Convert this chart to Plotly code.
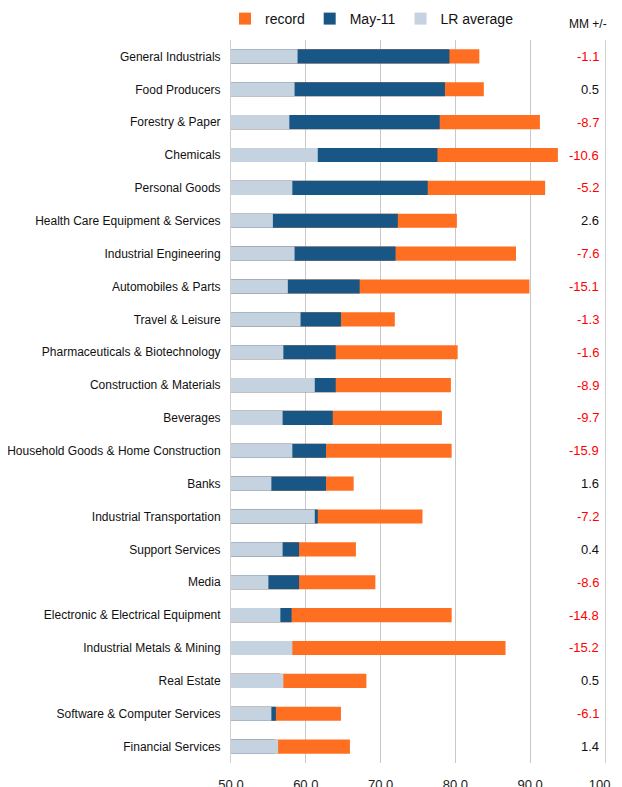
import plotly.graph_objects as go

categories = [
    "General Industrials", "Food Producers", "Forestry & Paper", "Chemicals",
    "Personal Goods", "Health Care Equipment & Services", "Industrial Engineering",
    "Automobiles & Parts", "Travel & Leisure", "Pharmaceuticals & Biotechnology",
    "Construction & Materials", "Beverages", "Household Goods & Home Construction",
    "Banks", "Industrial Transportation", "Support Services", "Media",
    "Electronic & Electrical Equipment", "Industrial Metals & Mining",
    "Real Estate", "Software & Computer Services", "Financial Services",
]
record = [83.2, 83.8, 91.3, 93.7, 92.0, 80.2, 88.1, 89.9, 71.9, 80.3, 79.4,
          78.2, 79.5, 66.4, 75.6, 66.7, 69.3, 79.5, 86.7, 68.1, 64.7, 65.9]
may11 = [79.2, 78.6, 77.9, 77.6, 76.3, 72.3, 72.0, 67.2, 64.7, 64.0, 64.0,
         63.6, 62.7, 62.7, 61.6, 59.1, 59.1, 58.1, 57.6, 56.5, 56.0, 55.8]
lr_average = [58.9, 58.5, 57.8, 61.6, 58.2, 55.6, 58.5, 57.6, 59.3, 57.0, 61.2,
              56.9, 58.2, 55.4, 61.2, 56.9, 55.0, 56.6, 58.2, 57.0, 55.4, 56.3]
mm_change = [-1.1, 0.5, -8.7, -10.6, -5.2, 2.6, -7.6, -15.1, -1.3, -1.6, -8.9,
             -9.7, -15.9, 1.6, -7.2, 0.4, -8.6, -14.8, -15.2, 0.5, -6.1, 1.4]
x_ticks = [50, 60, 70, 80, 90, 100]

C_REC = "#FF6F22"
C_MAY = "#185785"
C_LR = "#C4D3DF"

W, H = 622, 787

fig = go.Figure()
fig.add_trace(go.Bar(y=categories, x=record, orientation="h", name="record",
                     marker=dict(color=C_REC, line=dict(width=0))))
fig.add_trace(go.Bar(y=categories, x=may11, orientation="h", name="May-11",
                     marker=dict(color=C_MAY, line=dict(width=0))))
fig.add_trace(go.Bar(y=categories, x=lr_average, orientation="h", name="LR average",
                     marker=dict(color=C_LR, line=dict(width=0))))

for cat, v in zip(categories, mm_change):
    fig.add_annotation(x=0.989, xref="paper", y=cat, yref="y",
                       text=f"{v:.1f}", showarrow=False, xanchor="right",
                       font=dict(size=13, color="#FF0000" if v < 0 else "#111111"))

fig.add_annotation(x=1.0107, xref="paper", y=1.0221, yref="paper",
                   yanchor="middle", text="MM +/-", showarrow=False, xanchor="right",
                   font=dict(size=12, color="#111111"))

fig.update_layout(
    width=W, height=H,
    barmode="overlay", bargap=0.57,
    plot_bgcolor="white", paper_bgcolor="white",
    font=dict(family="Liberation Sans, Arial, sans-serif", size=12, color="#111111"),
    margin=dict(l=223, r=25, t=32, b=32, autoexpand=False),
    showlegend=True,
    legend=dict(orientation="h", xref="container", yref="container",
                x=217 / W, xanchor="left", y=1 - 11 / H, yanchor="middle",
                font=dict(size=14), itemwidth=30, traceorder="normal",
                bgcolor="rgba(0,0,0,0)"),
    xaxis=dict(range=[50, 100], tickvals=x_ticks, automargin=False,
               ticktext=[f"{t:.1f}" for t in x_ticks], showgrid=True,
               gridcolor="#C8C8C8", gridwidth=1, zeroline=False, ticks="",
               ticklabeloverflow="allow",
               ticklabelstandoff=12, tickfont=dict(size=13, color="#222222")),
    yaxis=dict(autorange="reversed", showline=True, linecolor="#D0D0D0",
               mirror=True, ticks="", ticklabelstandoff=7, automargin=False,
               tickfont=dict(size=12, color="#111111")),
)

fig.write_html("out.html",
               post_script="document.documentElement.style.overflow='hidden';"
                           "document.body.style.overflow='hidden';")
